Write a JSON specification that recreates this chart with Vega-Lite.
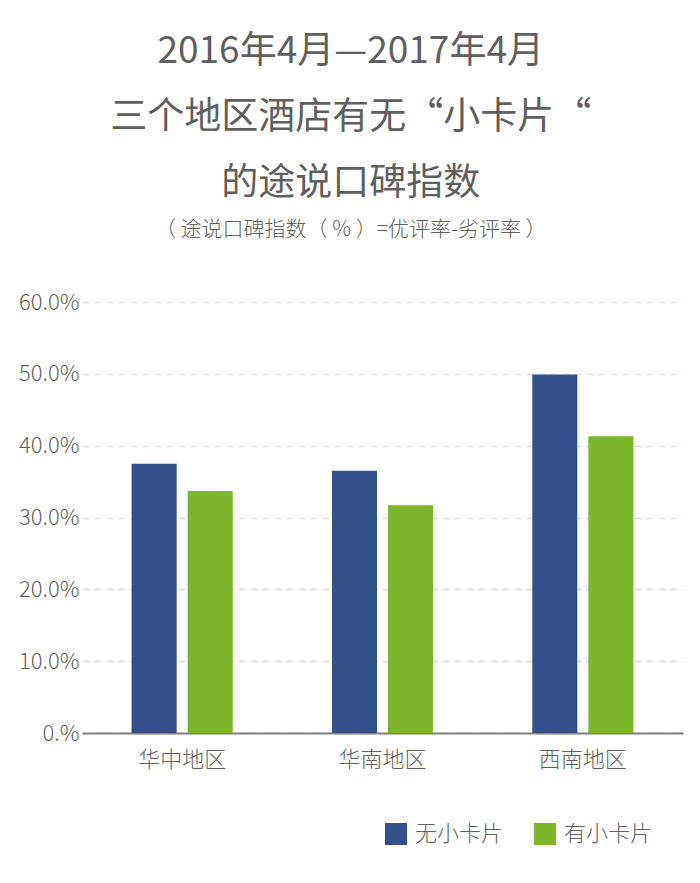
{
  "$schema": "https://vega.github.io/schema/vega-lite/v6.json",
  "width": 601,
  "height": 431,
  "autosize": "none",
  "padding": {"left": 82, "top": 302, "right": 17, "bottom": 150},
  "background": "white",
  "config": {
    "font": "Noto Sans CJK SC",
    "view": {"stroke": null}
  },
  "title": {
    "text": ["2016年4月—2017年4月", "三个地区酒店有无“小卡片“", "的途说口碑指数"],
    "subtitle": "（ 途说口碑指数（ % ）=优评率-劣评率 ）",
    "fontSize": 37,
    "lineHeight": 66,
    "fontWeight": 400,
    "color": "#5f5f5f",
    "subtitleFontSize": 21,
    "subtitleFontWeight": 300,
    "subtitleColor": "#5f5f5f",
    "subtitlePadding": 16,
    "anchor": "middle",
    "frame": "bounds",
    "offset": 50
  },
  "data": {
    "values": [
      {"region": "华中地区", "type": "无小卡片", "value": 0.375},
      {"region": "华中地区", "type": "有小卡片", "value": 0.337},
      {"region": "华南地区", "type": "无小卡片", "value": 0.365},
      {"region": "华南地区", "type": "有小卡片", "value": 0.317},
      {"region": "西南地区", "type": "无小卡片", "value": 0.499},
      {"region": "西南地区", "type": "有小卡片", "value": 0.413}
    ]
  },
  "mark": {"type": "bar"},
  "encoding": {
    "x": {
      "field": "region",
      "type": "nominal",
      "sort": ["华中地区", "华南地区", "西南地区"],
      "scale": {"paddingInner": 0, "paddingOuter": 0},
      "axis": {
        "title": null,
        "labelAngle": 0,
        "labelFontSize": 22,
        "labelFontWeight": 300,
        "labelColor": "#5f5f5f",
        "labelPadding": 16,
        "ticks": false,
        "domainColor": "#7f7f7f",
        "domainWidth": 2
      }
    },
    "xOffset": {
      "field": "type",
      "type": "nominal",
      "sort": ["无小卡片", "有小卡片"],
      "scale": {"paddingInner": 0.196, "paddingOuter": 0.884}
    },
    "y": {
      "field": "value",
      "type": "quantitative",
      "scale": {"domain": [0, 0.6]},
      "axis": {
        "title": null,
        "values": [0, 0.1, 0.2, 0.3, 0.4, 0.5, 0.6],
        "labelExpr": "datum.value == 0 ? '0.%' : format(datum.value, '.1%')",
        "labelFontSize": 22,
        "labelFontWeight": 300,
        "labelColor": "#5f5f5f",
        "labelPadding": 3,
        "ticks": false,
        "domain": false,
        "gridDash": [7, 5],
        "gridColor": "#d9d9d9",
        "gridWidth": 1.5
      }
    },
    "color": {
      "field": "type",
      "type": "nominal",
      "sort": ["无小卡片", "有小卡片"],
      "scale": {"domain": ["无小卡片", "有小卡片"], "range": ["#33528B", "#7DB52B"]},
      "legend": {
        "title": null,
        "orient": "none",
        "direction": "horizontal",
        "legendX": 303,
        "legendY": 521,
        "symbolType": "square",
        "symbolSize": 484,
        "symbolStrokeWidth": 0,
        "symbolOpacity": 1,
        "labelFontSize": 22,
        "labelFontWeight": 300,
        "labelColor": "#5f5f5f",
        "labelOffset": 8,
        "columnPadding": 30
      }
    }
  }
}
